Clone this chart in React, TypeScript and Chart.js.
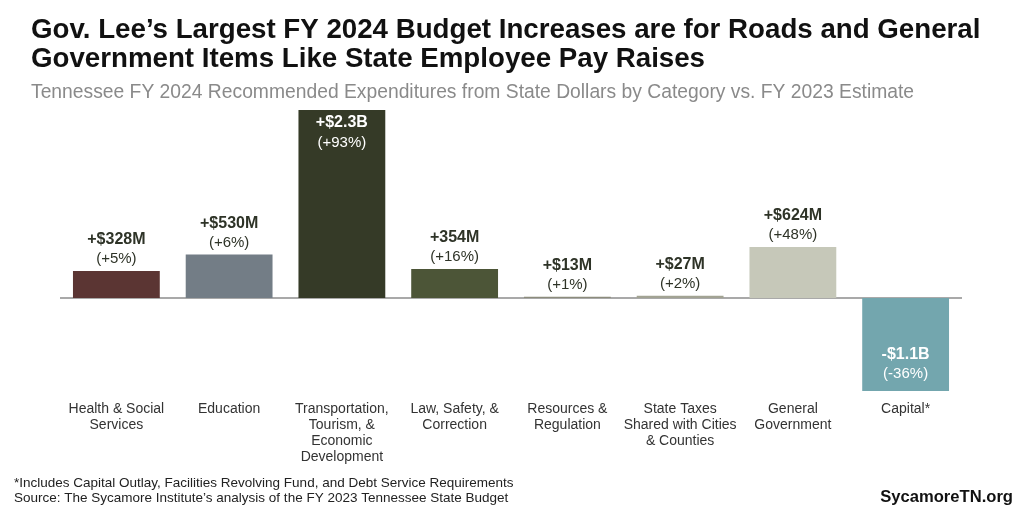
import React, { useEffect, useRef } from "react";
import { Chart, registerables } from "chart.js";

Chart.register(...registerables);

const categories: string[][] = [
  ["Health & Social", "Services"],
  ["Education"],
  ["Transportation,", "Tourism, &", "Economic", "Development"],
  ["Law, Safety, &", "Correction"],
  ["Resources &", "Regulation"],
  ["State Taxes", "Shared with Cities", "& Counties"],
  ["General", "Government"],
  ["Capital*"],
];
const changeBillions = [0.328, 0.53, 2.3, 0.354, 0.013, 0.027, 0.624, -1.14];
const amountLabels = ["+$328M", "+$530M", "+$2.3B", "+354M", "+$13M", "+$27M", "+$624M", "-$1.1B"];
const percentLabels = ["(+5%)", "(+6%)", "(+93%)", "(+16%)", "(+1%)", "(+2%)", "(+48%)", "(-36%)"];
const barColors = ["#5b3533", "#737d86", "#353a27", "#4c5537", "#8c8c7c", "#a2a393", "#c6c8b9", "#73a6ae"];

const titleLines = [
  "Gov. Lee\u2019s Largest FY 2024 Budget Increases are for Roads and General",
  "Government Items Like State Employee Pay Raises",
];
const subtitle = "Tennessee FY 2024 Recommended Expenditures from State Dollars by Category vs. FY 2023 Estimate";
const footnotes = [
  "*Includes Capital Outlay, Facilities Revolving Fund, and Debt Service Requirements",
  "Source: The Sycamore Institute\u2019s analysis of the FY 2023 Tennessee State Budget",
];
const brand = "SycamoreTN.org";

const FONT = '"Liberation Sans", Arial, Helvetica, sans-serif';

const decorPlugin = {
  id: "decor",
  beforeDatasetsDraw(chart: any) {
    const { ctx, chartArea, scales } = chart;
    const y0 = scales.y.getPixelForValue(0);
    ctx.save();
    ctx.strokeStyle = "#8c8c8c";
    ctx.lineWidth = 1.5;
    ctx.beginPath();
    ctx.moveTo(chartArea.left, y0);
    ctx.lineTo(chartArea.right, y0);
    ctx.stroke();
    ctx.restore();
  },
  afterDatasetsDraw(chart: any) {
    const { ctx } = chart;
    const meta = chart.getDatasetMeta(0);
    ctx.save();
    ctx.textAlign = "center";
    ctx.textBaseline = "middle";
    meta.data.forEach((el: any, i: number) => {
      const v = changeBillions[i];
      const inside = Math.abs(v) > 1;
      let yA: number, yP: number, color: string;
      if (inside && v > 0) {
        yA = el.y + 13;
        yP = el.y + 33;
        color = "#ffffff";
      } else if (inside && v < 0) {
        yA = el.y - 36;
        yP = el.y - 17;
        color = "#ffffff";
      } else {
        yA = el.y - 31;
        yP = el.y - 12;
        color = "#2e3327";
      }
      ctx.fillStyle = color;
      ctx.font = `bold 16px ${FONT}`;
      ctx.fillText(amountLabels[i], el.x, yA);
      ctx.font = `15px ${FONT}`;
      ctx.fillText(percentLabels[i], el.x, yP);
    });
    ctx.restore();
  },
  afterDraw(chart: any) {
    const { ctx, width } = chart;
    ctx.save();
    ctx.textBaseline = "alphabetic";
    ctx.textAlign = "left";
    ctx.fillStyle = "#111111";
    ctx.font = `bold 27.7px ${FONT}`;
    ctx.fillText(titleLines[0], 31, 38);
    ctx.fillText(titleLines[1], 31, 67);
    ctx.fillStyle = "#8a8a8a";
    ctx.font = `19.3px ${FONT}`;
    ctx.fillText(subtitle, 31, 98);
    ctx.fillStyle = "#222222";
    ctx.font = `13.5px ${FONT}`;
    ctx.fillText(footnotes[0], 14, 487);
    ctx.fillText(footnotes[1], 14, 502);
    ctx.textAlign = "right";
    ctx.font = `bold 16.6px ${FONT}`;
    ctx.fillStyle = "#111111";
    ctx.fillText(brand, width - 11, 502);
    ctx.restore();
  },
};

export default function App() {
  const ref = useRef<HTMLCanvasElement | null>(null);
  useEffect(() => {
    if (!ref.current) return;
    const chart = new Chart(ref.current, {
      type: "bar",
      data: {
        labels: categories,
        datasets: [
          {
            data: changeBillions,
            backgroundColor: barColors,
            borderWidth: 0,
            categoryPercentage: 1,
            barPercentage: 0.77,
          },
        ],
      },
      options: {
        animation: false,
        responsive: true,
        maintainAspectRatio: false,
        layout: { padding: { top: 110, left: 60, right: 62, bottom: 0 } },
        plugins: {
          legend: { display: false },
          tooltip: { enabled: false },
          title: { display: false },
        },
        scales: {
          x: {
            grid: { display: false, drawTicks: false },
            border: { display: false },
            ticks: {
              color: "#333333",
              font: { family: FONT, size: 14, lineHeight: 1.15 },
              padding: 10,
              maxRotation: 0,
              autoSkip: false,
            },
            afterFit: (scale: any) => {
              scale.height = 121;
            },
          },
          y: {
            display: false,
            min: -1.14,
            max: 2.3,
          },
        },
      },
      plugins: [decorPlugin],
    });
    return () => chart.destroy();
  }, []);
  return (
    <div style={{ position: "absolute", left: 0, top: 0, width: 1024, height: 512, background: "#fff" }}>
      <canvas ref={ref} />
    </div>
  );
}
